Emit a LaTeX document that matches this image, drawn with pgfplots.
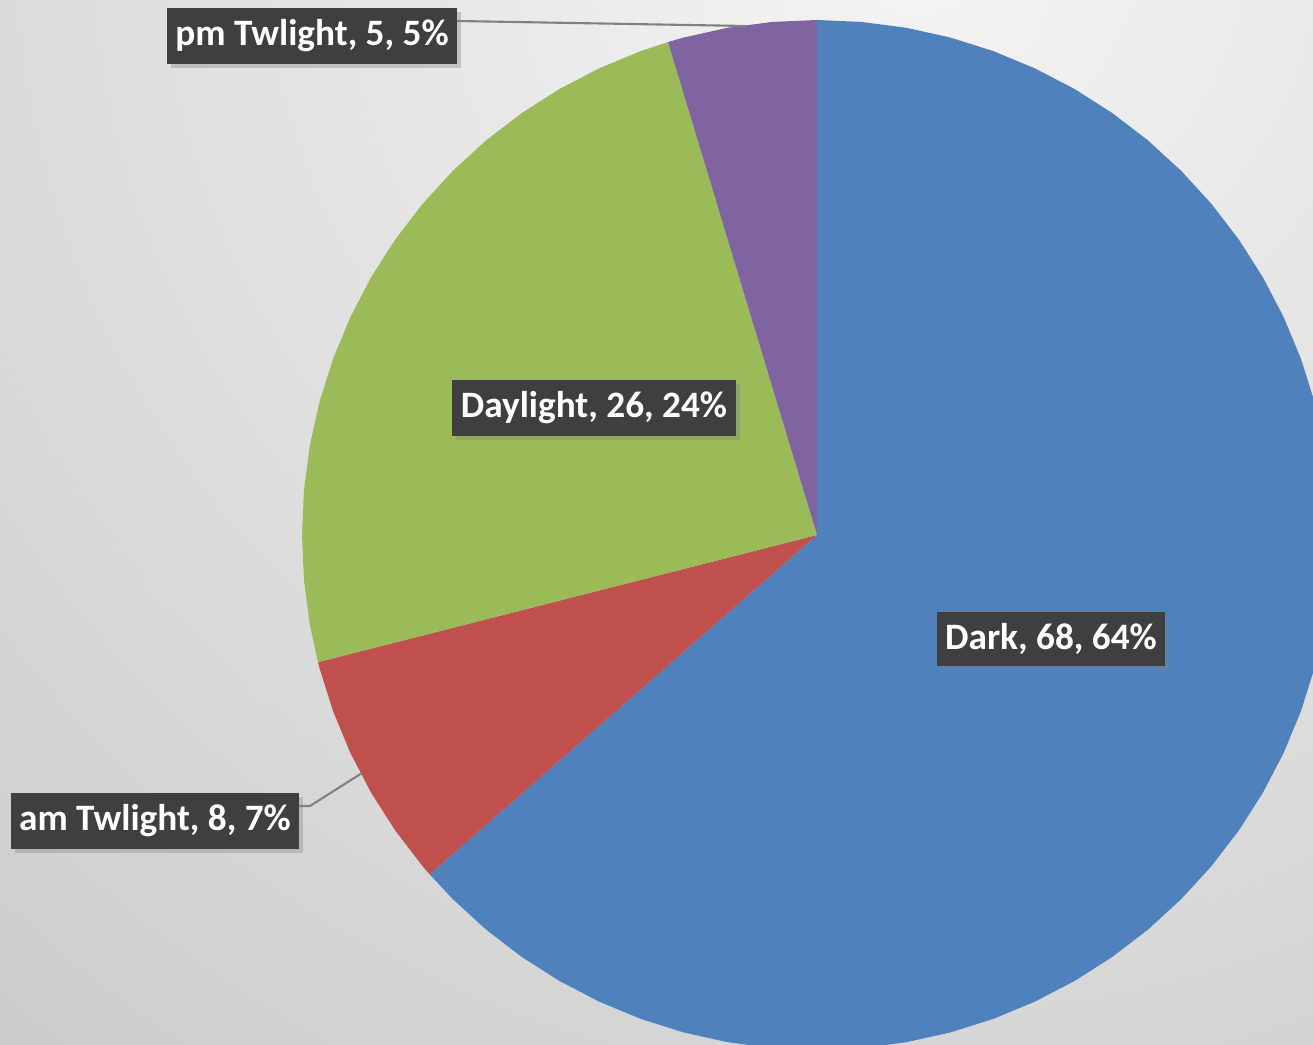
\documentclass[border=0pt]{standalone}
\usepackage{pgfplots}
\pgfplotsset{compat=1.18}
\usepackage{fontspec}
\setmainfont{Carlito}
\usetikzlibrary{shadows}
\definecolor{cDark}{HTML}{4F81BD}
\definecolor{cAm}{HTML}{C0504D}
\definecolor{cDay}{HTML}{9BBB59}
\definecolor{cPm}{HTML}{8064A2}
\definecolor{lbl}{HTML}{3F3F3F}
% values: Dark 68, am Twlight 8, Daylight 26, pm Twlight 5 (total 107)
\begin{document}
\begin{tikzpicture}
\begin{axis}[
  scale only axis, width=13.13cm, height=10.44cm,
  xmin=-817, xmax=496, ymin=-509, ymax=535,
  axis lines=none, ticks=none, clip=true,
]
\shade[inner color=white!96!black, outer color=white!80!black] (axis cs:100,600) circle[radius=1450];
\addplot[fill=cDark, draw=none, data cs=polar] coordinates {(0,0) (90,515) (85,515) (80,515) (75,515) (70,515) (65,515) (60,515) (55,515) (50,515) (45,515) (40,515) (35,515) (30,515) (25,515) (20,515) (15,515) (10,515) (5,515) (0,515) (-5,515) (-10,515) (-15,515) (-20,515) (-25,515) (-30,515) (-35,515) (-40,515) (-45,515) (-50,515) (-55,515) (-60,515) (-65,515) (-70,515) (-75,515) (-80,515) (-85,515) (-90,515) (-95,515) (-100,515) (-105,515) (-110,515) (-115,515) (-120,515) (-125,515) (-130,515) (-135,515) (-138.785,515)} -- cycle;
\addplot[fill=cAm, draw=none, data cs=polar] coordinates {(0,0) (-138.785,515) (-140,515) (-145,515) (-150,515) (-155,515) (-160,515) (-165,515) (-165.701,515)} -- cycle;
\addplot[fill=cDay, draw=none, data cs=polar] coordinates {(0,0) (-165.701,515) (-170,515) (-175,515) (-180,515) (-185,515) (-190,515) (-195,515) (-200,515) (-205,515) (-210,515) (-215,515) (-220,515) (-225,515) (-230,515) (-235,515) (-240,515) (-245,515) (-250,515) (-253.178,515)} -- cycle;
\addplot[fill=cPm, draw=none, data cs=polar] coordinates {(0,0) (-253.178,515) (-255,515) (-260,515) (-265,515) (-270,515)} -- cycle;
\addplot[gray, line width=0.6pt] coordinates {(-360,514) (-72,509)};
\addplot[gray, line width=0.6pt] coordinates {(-518,-271) (-507,-271) (-455,-238)};
\tikzset{lab/.style={fill=lbl, text=white, font=\fontsize{10.6}{12}\selectfont\bfseries, inner xsep=0.085cm, minimum height=0.53cm, drop shadow={shadow xshift=0.04cm, shadow yshift=-0.04cm, opacity=0.35}}}
\node[lab] at (axis cs:-505,499) {pm Twlight, 5, 5\%};
\node[lab] at (axis cs:-662,-286) {am Twlight, 8, 7\%};
\node[lab] at (axis cs:-223,127) {Daylight, 26, 24\%};
\node[lab] at (axis cs:234,-104) {Dark, 68, 64\%};
\end{axis}
\end{tikzpicture}
\end{document}
